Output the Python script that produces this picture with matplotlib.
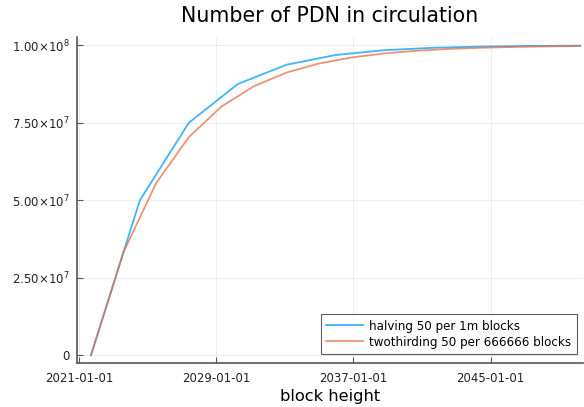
import matplotlib
matplotlib.use("Agg")
import matplotlib.pyplot as plt
import matplotlib.dates as mdates
import datetime as dt

# --- data ---
series_names = ["halving 50 per 1m blocks", "twothirding 50 per 666666 blocks"]
halving_blocks = [0, 1000000, 2000000, 3000000, 4000000, 5000000, 6000000,
                  7000000, 8000000, 9000000, 10000000]
halving_supply = [0, 50000000, 75000000, 87500000, 93750000, 96875000,
                  98437500, 99218750, 99609375, 99804688, 99902344]
twothird_blocks = [0, 666666, 1333332, 1999998, 2666664, 3333330, 3999996,
                   4666662, 5333328, 5999994, 6666660, 7333326, 7999992,
                   8666658, 9333324, 9999990]
twothird_supply = [0, 33333300, 55555500, 70370300, 80246900, 86831200,
                   91220800, 94147200, 96098100, 97398700, 98265800,
                   98843900, 99229200, 99486200, 99657400, 99771600]
start_date = "2021-09-13"
block_seconds = 90
xtick_labels = ["2021-01-01", "2029-01-01", "2037-01-01", "2045-01-01"]
ytick_values = [0, 25000000, 50000000, 75000000, 100000000]
ytick_labels = ["0", r"$2.50{\times}10^{7}$", r"$5.00{\times}10^{7}$",
                r"$7.50{\times}10^{7}$", r"$1.00{\times}10^{8}$"]

plt.rcParams['mathtext.fontset'] = 'dejavusans'
plt.rcParams['font.family'] = ['DejaVu Sans']

start = dt.datetime.strptime(start_date, "%Y-%m-%d")
def to_dates(blocks):
    return [start + dt.timedelta(seconds=b * block_seconds) for b in blocks]

fig = plt.figure(figsize=(5.84, 4.07), dpi=100)
ax = fig.add_axes([0.1313, 0.1074, 0.8678, 0.801])

ax.plot(to_dates(halving_blocks), halving_supply, color="#009AFA", lw=1.3,
        alpha=0.75, label=series_names[0])
ax.plot(to_dates(twothird_blocks), twothird_supply, color="#E36F47", lw=1.3,
        alpha=0.75, label=series_names[1])

base = mdates.date2num(dt.datetime(2021, 1, 1))
ax.set_xlim(base - 49, base + 10742)
ax.set_ylim(-2.6e6, 1.026e8)

xt = [mdates.date2num(dt.datetime.strptime(s, "%Y-%m-%d")) for s in xtick_labels]
ax.set_xticks(xt)
ax.set_xticklabels(xtick_labels)
ax.set_yticks(ytick_values)
ax.set_yticklabels(ytick_labels)

for s in ["top", "right"]:
    ax.spines[s].set_visible(False)
for s in ["left", "bottom"]:
    ax.spines[s].set_color("#555555")
    ax.spines[s].set_linewidth(1.2)

ax.tick_params(direction="in", length=4, width=0.8, color="#555555",
               labelsize=8.5, labelcolor="#222222")
ax.tick_params(axis="x", pad=6)
ax.tick_params(axis="y", pad=5)
ax.grid(True, color="black", alpha=0.08, lw=0.6)

ax.set_title("Number of PDN in circulation", fontsize=14.8, pad=11)
ax.set_xlabel("block height", fontsize=11.7, labelpad=3)

leg = ax.legend(loc="lower right", bbox_to_anchor=(0.9866, 0.0285),
                borderaxespad=0, fontsize=8.6, frameon=True, fancybox=False,
                handlelength=3.1, handletextpad=0.5, borderpad=0.45,
                labelspacing=0.25)
leg.get_frame().set_edgecolor("#333333")
leg.get_frame().set_linewidth(0.8)

fig.savefig("out.png", dpi=100)
